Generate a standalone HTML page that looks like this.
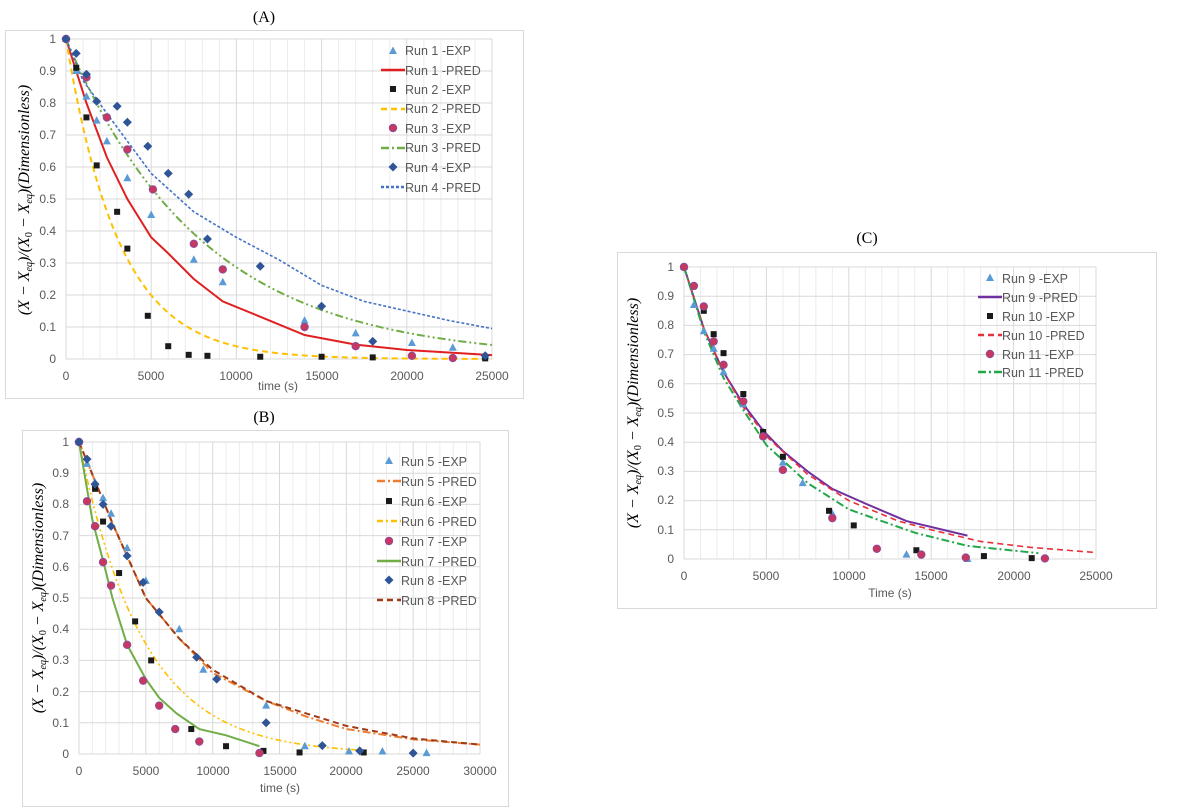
<!DOCTYPE html>
<html><head><meta charset="utf-8"><style>
body{margin:0;background:#fff;width:1186px;height:809px;overflow:hidden}
svg{position:absolute;left:0;top:0}
text{font-family:"Liberation Sans",sans-serif;fill:#595959}
.t{font-family:"Liberation Serif",serif;fill:#000;font-size:16px}
.lg{font-size:12.5px;fill:#595959}
.yl{font-family:"Liberation Serif",serif;fill:#000;font-size:16px}
</style></head><body>
<svg id="s" width="1186" height="809" xmlns="http://www.w3.org/2000/svg">
<rect x="5.5" y="30.5" width="518" height="368" fill="#fff" stroke="#d9d9d9"/>
<rect x="22.5" y="430.5" width="486" height="376" fill="#fff" stroke="#d9d9d9"/>
<rect x="617.5" y="252.5" width="539" height="356" fill="#fff" stroke="#d9d9d9"/>
<g id="grid"></g>
<text class="t" x="264" y="22" text-anchor="middle">(A)</text>
<text class="t" x="264" y="422" text-anchor="middle">(B)</text>
<text class="t" x="867" y="243" text-anchor="middle">(C)</text>
<text x="278" y="390" font-size="12" text-anchor="middle">time (s)</text>
<text x="280" y="792" font-size="12" text-anchor="middle">time (s)</text>
<text x="890" y="597" font-size="12" text-anchor="middle">Time (s)</text>
<text class="yl" transform="translate(29,200) rotate(-90)" text-anchor="middle"><tspan font-style="italic">(X − X</tspan><tspan font-size="10" dy="3" font-style="italic">eq</tspan><tspan dy="-3" font-style="italic">)/(X</tspan><tspan font-size="10" dy="3">0</tspan><tspan dy="-3" font-style="italic"> − X</tspan><tspan font-size="10" dy="3" font-style="italic">eq</tspan><tspan dy="-3" font-style="italic">)(Dimensionless)</tspan></text>
<text class="yl" transform="translate(43,598) rotate(-90)" text-anchor="middle"><tspan font-style="italic">(X − X</tspan><tspan font-size="10" dy="3" font-style="italic">eq</tspan><tspan dy="-3" font-style="italic">)/(X</tspan><tspan font-size="10" dy="3">0</tspan><tspan dy="-3" font-style="italic"> − X</tspan><tspan font-size="10" dy="3" font-style="italic">eq</tspan><tspan dy="-3" font-style="italic">)(Dimensionless)</tspan></text>
<text class="yl" transform="translate(638,413) rotate(-90)" text-anchor="middle"><tspan font-style="italic">(X − X</tspan><tspan font-size="10" dy="3" font-style="italic">eq</tspan><tspan dy="-3" font-style="italic">)/(X</tspan><tspan font-size="10" dy="3">0</tspan><tspan dy="-3" font-style="italic"> − X</tspan><tspan font-size="10" dy="3" font-style="italic">eq</tspan><tspan dy="-3" font-style="italic">)(Dimensionless)</tspan></text>
<g font-size="12" text-anchor="end">
<text x="56" y="43">1</text><text x="56" y="75">0.9</text><text x="56" y="107">0.8</text><text x="56" y="139">0.7</text><text x="56" y="171">0.6</text><text x="56" y="203">0.5</text><text x="56" y="235">0.4</text><text x="56" y="267">0.3</text><text x="56" y="299">0.2</text><text x="56" y="331">0.1</text><text x="56" y="363">0</text>
<text x="69" y="446">1</text><text x="69" y="477">0.9</text><text x="69" y="508">0.8</text><text x="69" y="540">0.7</text><text x="69" y="571">0.6</text><text x="69" y="602">0.5</text><text x="69" y="633">0.4</text><text x="69" y="664">0.3</text><text x="69" y="696">0.2</text><text x="69" y="727">0.1</text><text x="69" y="758">0</text>
<text x="674" y="271">1</text><text x="674" y="300">0.9</text><text x="674" y="329">0.8</text><text x="674" y="358">0.7</text><text x="674" y="388">0.6</text><text x="674" y="417">0.5</text><text x="674" y="446">0.4</text><text x="674" y="475">0.3</text><text x="674" y="504">0.2</text><text x="674" y="534">0.1</text><text x="674" y="563">0</text>
</g>
<g font-size="12" text-anchor="middle">
<text x="66" y="380">0</text><text x="151" y="380">5000</text><text x="236" y="380">10000</text><text x="322" y="380">15000</text><text x="407" y="380">20000</text><text x="492" y="380">25000</text>
<text x="79" y="775">0</text><text x="146" y="775">5000</text><text x="213" y="775">10000</text><text x="280" y="775">15000</text><text x="346" y="775">20000</text><text x="413" y="775">25000</text><text x="480" y="775">30000</text>
<text x="684" y="580">0</text><text x="766" y="580">5000</text><text x="849" y="580">10000</text><text x="931" y="580">15000</text><text x="1014" y="580">20000</text><text x="1096" y="580">25000</text>
</g>
<g class="lg">
<text class="lg" x="405" y="55">Run 1 -EXP</text><text class="lg" x="405" y="75">Run 1 -PRED</text><text class="lg" x="405" y="94">Run 2 -EXP</text><text class="lg" x="405" y="113">Run 2 -PRED</text><text class="lg" x="405" y="133">Run 3 -EXP</text><text class="lg" x="405" y="152">Run 3 -PRED</text><text class="lg" x="405" y="172">Run 4 -EXP</text><text class="lg" x="405" y="192">Run 4 -PRED</text>
<text class="lg" x="401" y="466">Run 5 -EXP</text><text class="lg" x="401" y="486">Run 5 -PRED</text><text class="lg" x="401" y="506">Run 6 -EXP</text><text class="lg" x="401" y="526">Run 6 -PRED</text><text class="lg" x="401" y="546">Run 7 -EXP</text><text class="lg" x="401" y="566">Run 7 -PRED</text><text class="lg" x="401" y="585">Run 8 -EXP</text><text class="lg" x="401" y="605">Run 8 -PRED</text>
<text class="lg" x="1002" y="283">Run 9 -EXP</text><text class="lg" x="1002" y="302">Run 9 -PRED</text><text class="lg" x="1002" y="321">Run 10 -EXP</text><text class="lg" x="1002" y="340">Run 10 -PRED</text><text class="lg" x="1002" y="359">Run 11 -EXP</text><text class="lg" x="1002" y="377">Run 11 -PRED</text>
</g>
<g id="data"></g>
</svg>
<script>
const NS="http://www.w3.org/2000/svg";
const G=document.getElementById('grid'),D=document.getElementById('data');
function el(p,tag,a){const e=document.createElementNS(NS,tag);for(const k in a)e.setAttribute(k,a[k]);p.appendChild(e);return e;}
const charts={
A:{x0:66,x1:492,xm:25000,y0:359,y1:39},
B:{x0:79,x1:480,xm:30000,y0:754,y1:442},
C:{x0:684,x1:1096,xm:25000,y0:559,y1:267}};
for(const k in charts){const c=charts[k];
 for(let t=0;t<=c.xm;t+=1000){const x=c.x0+(c.x1-c.x0)*t/c.xm;el(G,'line',{x1:x,x2:x,y1:c.y1,y2:c.y0,stroke:t%5000?'#ececec':'#d9d9d9','stroke-width':1});}
 for(let i=0;i<=10;i++){const y=c.y0+(c.y1-c.y0)*i/10;el(G,'line',{x1:c.x0,x2:c.x1,y1:y,y2:y,stroke:'#d9d9d9'});}
}
function P(c,t,v){return [c.x0+(c.x1-c.x0)*t/c.xm,c.y0+(c.y1-c.y0)*v];}
function line(c,pts,col,w,dash){el(D,'polyline',{points:pts.map(p=>P(c,p[0],p[1]).join(',')).join(' '),fill:'none',stroke:col,'stroke-width':w,'stroke-dasharray':dash||''});}
function fn(f,end,step){const a=[];for(let t=0;t<=end;t+=step)a.push([t,f(t)]);return a;}
function mk(x,y,type){
 if(type=='tri')el(D,'polygon',{points:`${x},${y-4.5} ${x-4},${y+3} ${x+4},${y+3}`,fill:'#5B9BD5'});
 else if(type=='sq')el(D,'rect',{x:x-3,y:y-3,width:6,height:6,fill:'#1a1a1a'});
 else if(type=='ci')el(D,'circle',{cx:x,cy:y,r:3.7,fill:'#C8385E',stroke:'#8E4A9A','stroke-width':1});
 else el(D,'polygon',{points:`${x},${y-4.5} ${x+4.5},${y} ${x},${y+4.5} ${x-4.5},${y}`,fill:'#2F5597'});
}
function pts(c,arr,type){arr.forEach(p=>{const q=P(c,p[0],p[1]);mk(q[0],q[1],type);});}
const A=charts.A,B=charts.B,C=charts.C;
line(A,[[0,1],[1200,.8],[2400,.63],[3600,.5],[5000,.38],[6000,.33],[7500,.25],[9200,.18],[11500,.13],[14000,.075],[17000,.045],[20000,.028],[25000,.012]],'#E02020',2);
line(A,fn(t=>Math.exp(-t/3100),25000,250),'#FFC000',2,'6,4');
line(A,fn(t=>Math.exp(-t/8000),25000,250),'#70AD47',2,'8,3,2,3,2,3');
line(A,[[0,1],[1000,.87],[2500,.76],[5000,.58],[7500,.46],[10000,.38],[12500,.31],[15000,.23],[17500,.18],[20000,.15],[22500,.12],[25000,.095]],'#4472C4',1.6,'3,2');
pts(A,[[0,1],[600,.9],[1200,.82],[1800,.745],[2400,.68],[3600,.565],[5000,.45],[7500,.31],[9200,.24],[14000,.12],[17000,.08],[20300,.05],[22700,.035],[24600,.01]],'tri');
pts(A,[[600,.91],[1200,.755],[1800,.605],[3000,.46],[3600,.345],[4800,.135],[6000,.04],[7200,.013],[8300,.01],[11400,.007],[15000,.007],[18000,.005],[24600,.002]],'sq');
pts(A,[[0,1],[1200,.88],[2400,.755],[3600,.655],[5100,.53],[7500,.36],[9200,.28],[14000,.1],[17000,.04],[20300,.01],[22700,.003]],'ci');
pts(A,[[0,1],[600,.955],[1200,.89],[1800,.805],[3000,.79],[3600,.74],[4800,.665],[6000,.58],[7200,.515],[8300,.375],[11400,.29],[15000,.165],[18000,.055],[24600,.01]],'di');
const b5=[[0,1],[2500,.74],[5000,.5],[7500,.37],[10000,.26],[14000,.17],[17000,.12],[20000,.08],[25000,.047],[30000,.03]];
line(B,b5,'#ED7D31',2,'8,3,2,3');
line(B,fn(t=>Math.exp(-t/4800),21000,250),'#FFC000',1.6,'6,3,2,3,2,3');
line(B,[[0,1],[1000,.75],[1800,.62],[2500,.5],[3600,.35],[5000,.24],[6000,.18],[7300,.13],[9000,.08],[11000,.06],[13500,.025]],'#70AD47',2);
line(B,[[0,1],[2500,.74],[5000,.5],[7500,.37],[10000,.27],[14000,.17],[17000,.13],[20000,.09],[25000,.05],[30000,.03]],'#9E3B18',2,'6,4');
pts(B,[[0,1],[600,.93],[1200,.87],[1800,.82],[2400,.77],[3600,.66],[5000,.555],[7500,.4],[9300,.27],[14000,.155],[16900,.025],[20200,.008],[22700,.008],[26000,.003]],'tri');
pts(B,[[1200,.85],[1800,.745],[3000,.58],[4200,.425],[5400,.3],[8400,.08],[11000,.025],[13800,.01],[16500,.005],[21300,.005]],'sq');
pts(B,[[0,1],[600,.81],[1200,.73],[1800,.615],[2400,.54],[3600,.35],[4800,.235],[6000,.155],[7200,.08],[9000,.04],[13500,.003]],'ci');
pts(B,[[0,1],[600,.945],[1200,.865],[1800,.8],[2400,.73],[3600,.635],[4800,.55],[6000,.455],[8800,.31],[10300,.24],[14000,.1],[18200,.027],[21000,.01],[25000,.003]],'di');
line(C,[[0,1],[1200,.79],[2400,.64],[3600,.53],[4800,.44],[6000,.37],[7500,.3],[9000,.24],[11000,.19],[13500,.13],[17200,.08]],'#7030A0',2);
line(C,[[0,1],[1200,.79],[2400,.64],[3600,.52],[5000,.42],[7500,.29],[10000,.2],[13000,.13],[15000,.1],[18000,.06],[21000,.04],[25000,.022]],'#E8303A',1.6,'6,4');
line(C,[[0,1],[1200,.78],[2400,.62],[3600,.51],[5000,.39],[7500,.26],[10000,.17],[14000,.09],[17200,.045],[21500,.02]],'#22A84A',2,'8,3,2,3');
pts(C,[[0,1],[600,.87],[1200,.78],[1800,.72],[2400,.64],[3600,.53],[4800,.435],[6000,.33],[7200,.26],[9000,.155],[13500,.015],[17200,.0]],'tri');
pts(C,[[1200,.85],[1800,.77],[2400,.705],[3600,.565],[4800,.435],[6000,.35],[8800,.165],[10300,.115],[14100,.03],[18200,.01],[21100,.003]],'sq');
pts(C,[[0,1],[600,.935],[1200,.865],[1800,.745],[2400,.665],[3600,.54],[4800,.42],[6000,.305],[9000,.14],[11700,.035],[14400,.015],[17100,.005],[21900,.002]],'ci');
function leg(x,y,kind,col,dash){if(kind=='l')el(D,'line',{x1:x-12,x2:x+12,y1:y,y2:y,stroke:col,'stroke-width':2.5,'stroke-dasharray':dash||''});else mk(x,y,kind);}
leg(393,51,'tri');leg(393,70,'l','#E02020');leg(393,89,'sq');leg(393,109,'l','#FFC000','6,4');leg(393,128,'ci');leg(393,148,'l','#70AD47','8,3,2,3');leg(393,167,'di');leg(393,187,'l','#4472C4','3,2');
leg(389,461,'tri');leg(389,481,'l','#ED7D31','8,3,2,3');leg(389,501,'sq');leg(389,521,'l','#FFC000','6,3,2,3');leg(389,541,'ci');leg(389,561,'l','#70AD47');leg(389,580,'di');leg(389,600,'l','#9E3B18','6,4');
leg(990,278,'tri');leg(990,297,'l','#7030A0');leg(990,316,'sq');leg(990,335,'l','#E8303A','6,4');leg(990,354,'ci');leg(990,372,'l','#22A84A','8,3,2,3');
</script>
</body></html>
